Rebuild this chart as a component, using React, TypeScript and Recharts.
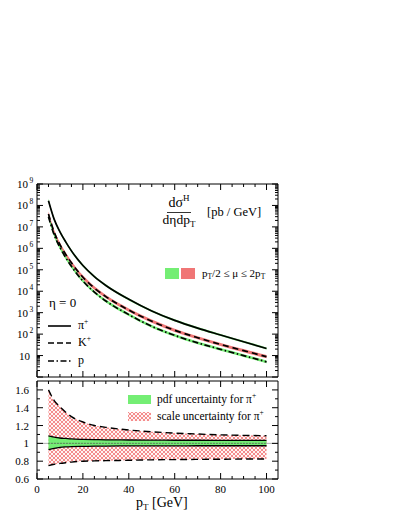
import React from 'react';
import { ComposedChart, Area, Line, XAxis, YAxis, ReferenceLine } from 'recharts';

// transverse momentum grid [GeV]
const pT = [5, 7.5, 10, 12.5, 15, 20, 25, 30, 40, 50, 60, 70, 80, 90, 100];

// cross sections [pb/GeV]
const piPlus = [1.66e8, 2.24e7, 5.9e6, 2.0e6, 7.6e5, 1.58e5, 4.8e4, 1.86e4, 4.2e3, 1200, 436, 190, 91, 44, 21.4];
const kPlus = [4.0e7, 5.6e6, 1.5e6, 5.2e5, 2.1e5, 4.5e4, 1.4e4, 5600, 1320, 400, 151, 68, 33, 17, 8.9];
const proton = [3.0e7, 4.2e6, 1.1e6, 3.7e5, 1.45e5, 3.0e4, 9100, 3500, 810, 230, 87, 39, 19.5, 10, 5.1];

// half widths of the shaded bands (multiplicative)
const piBand = [1.22, 1.2, 1.18, 1.17, 1.16, 1.15, 1.14, 1.13, 1.13, 1.12, 1.12, 1.12, 1.12, 1.12, 1.12];
const kBand = [1.3, 1.27, 1.25, 1.24, 1.23, 1.22, 1.21, 1.2, 1.2, 1.19, 1.19, 1.18, 1.18, 1.18, 1.18];
const pBand = [1.25, 1.23, 1.21, 1.2, 1.19, 1.18, 1.17, 1.17, 1.16, 1.16, 1.16, 1.16, 1.16, 1.16, 1.16];

// ratio panel
const scaleHi = [1.6, 1.48, 1.41, 1.35, 1.3, 1.24, 1.2, 1.18, 1.15, 1.13, 1.115, 1.105, 1.095, 1.09, 1.085];
const scaleLo = [0.75, 0.765, 0.775, 0.783, 0.79, 0.8, 0.803, 0.806, 0.81, 0.815, 0.818, 0.82, 0.822, 0.824, 0.825];
const pdfHi = [1.085, 1.07, 1.06, 1.055, 1.05, 1.045, 1.042, 1.04, 1.038, 1.036, 1.035, 1.035, 1.034, 1.034, 1.033];
const pdfLo = [0.93, 0.945, 0.955, 0.96, 0.963, 0.966, 0.968, 0.97, 0.971, 0.972, 0.972, 0.973, 0.973, 0.973, 0.973];
const unity = [1, 1, 1, 1, 1, 1, 1, 1, 1, 1, 1, 1, 1, 1, 1];

// ticks
const xTicks = [0, 5, 10, 15, 20, 25, 30, 35, 40, 45, 50, 55, 60, 65, 70, 75, 80, 85, 90, 95, 100];
const xLabels = [0, 20, 40, 60, 80, 100];
const decades = [0, 1, 2, 3, 4, 5, 6, 7, 8, 9];
const mantissas = [1, 2, 3, 4, 5, 6, 7, 8, 9];
const logTicks: number[] = [];
decades.forEach((d) => {
  mantissas.forEach((m) => {
    if (d < 9 || m === 1) logTicks.push(m * Math.pow(10, d));
  });
});
const ratioTicks = [0.6, 0.7, 0.8, 0.9, 1, 1.1, 1.2, 1.3, 1.4, 1.5, 1.6];
const ratioLabels = [0.6, 0.8, 1, 1.2, 1.4, 1.6];

const FONT = '"Liberation Serif", "Times New Roman", serif';
const GREEN = '#74ee74';
const RED = '#f07676';

const topData = pT.map((x, i) => ({
  pT: x,
  pi: piPlus[i],
  k: kPlus[i],
  p: proton[i],
  piB: [piPlus[i] / piBand[i], piPlus[i] * piBand[i]],
  kB: [kPlus[i] / kBand[i], kPlus[i] * kBand[i]],
  pB: [proton[i] / pBand[i], proton[i] * pBand[i]],
}));

const ratioData = pT.map((x, i) => ({
  pT: x,
  sHi: scaleHi[i],
  sLo: scaleLo[i],
  scale: [scaleLo[i], scaleHi[i]],
  pHi: pdfHi[i],
  pLo: pdfLo[i],
  pdf: [pdfLo[i], pdfHi[i]],
  one: unity[i],
}));

const isDecade = (v: number) => Math.abs(Math.log10(v) - Math.round(Math.log10(v))) < 1e-6;

function tickFactory(side: string, major: (v: number) => boolean, label?: (v: number) => React.ReactNode) {
  return (props: any) => {
    const { x, y, payload } = props;
    const v = payload.value;
    const len = major(v) ? 6 : 3;
    let line;
    if (side === 'left') line = <line x1={x} y1={y} x2={x + len} y2={y} stroke="#000" strokeWidth={1} />;
    else if (side === 'right') line = <line x1={x} y1={y} x2={x - len} y2={y} stroke="#000" strokeWidth={1} />;
    else if (side === 'top') line = <line x1={x} y1={y} x2={x} y2={y + len} stroke="#000" strokeWidth={1} />;
    else line = <line x1={x} y1={y} x2={x} y2={y - len} stroke="#000" strokeWidth={1} />;
    const lab = label ? label(v) : null;
    return (
      <g>
        {line}
        {lab ? <g transform={`translate(${x},${y})`}>{lab}</g> : null}
      </g>
    );
  };
}

const logLabel = (v: number) => {
  if (!isDecade(v)) return null;
  const d = Math.round(Math.log10(v));
  if (d === 0) return null;
  if (d === 1)
    return (
      <text x={-18} y={4} fontSize={11} fontFamily={FONT} fill="#000">
        10
      </text>
    );
  return (
    <text x={-20} y={4} fontSize={11} fontFamily={FONT} fill="#000">
      10
      <tspan dx={1.5} dy={-5} fontSize={7.5}>
        {d}
      </tspan>
    </text>
  );
};

const ratioLabel = (v: number) =>
  ratioLabels.some((r) => Math.abs(r - v) < 1e-6) ? (
    <text x={-8} y={4} textAnchor="end" fontSize={11} fontFamily={FONT} fill="#000">
      {String(v)}
    </text>
  ) : null;

const xLabel = (v: number) =>
  xLabels.includes(v) ? (
    <text x={0} y={14} textAnchor="middle" fontSize={11} fontFamily={FONT} fill="#000">
      {v}
    </text>
  ) : null;

const xMajor = (v: number) => xLabels.includes(v);
const ratioMajor = (v: number) => ratioLabels.some((r) => Math.abs(r - v) < 1e-6);

const axisCommon = {
  tickSize: 0,
  tickMargin: 0,
  interval: 0 as const,
  axisLine: { stroke: '#000', strokeWidth: 1 },
  tickLine: false,
};

const abs: React.CSSProperties = { position: 'absolute', left: 0, top: 0 };

export default function App() {
  return (
    <div style={{ position: 'absolute', left: 0, top: 0, width: 399, height: 516, background: '#fff' }}>
      <svg width={0} height={0} style={{ position: 'absolute' }}>
        <defs>
          <pattern id="hatch" width={4} height={4} patternUnits="userSpaceOnUse">
            <rect width={4} height={4} fill="#fff3f3" />
            <path d="M0,0 L4,4 M4,0 L0,4" stroke="#f27a7a" strokeWidth={0.85} />
          </pattern>
        </defs>
      </svg>

      <div style={abs}>
        <ComposedChart width={399} height={516} data={topData} margin={{ top: 183, left: 36, right: 120, bottom: 138 }}>
          <XAxis xAxisId="b" dataKey="pT" type="number" domain={[0, 105]} ticks={xTicks} orientation="bottom" height={1} {...axisCommon} tick={tickFactory('bottom', xMajor)} />
          <XAxis xAxisId="t" dataKey="pT" type="number" domain={[0, 105]} ticks={xTicks} orientation="top" height={1} {...axisCommon} tick={tickFactory('top', xMajor)} />
          <YAxis yAxisId="l" type="number" scale="log" domain={[1, 1e9]} ticks={logTicks} allowDataOverflow orientation="left" width={1} {...axisCommon} tick={tickFactory('left', isDecade, logLabel)} />
          <YAxis yAxisId="r" type="number" scale="log" domain={[1, 1e9]} ticks={logTicks} allowDataOverflow orientation="right" width={1} {...axisCommon} tick={tickFactory('right', isDecade)} />
          <Area xAxisId="b" yAxisId="l" dataKey="piB" type="monotone" fill={GREEN} fillOpacity={1} stroke="none" isAnimationActive={false} />
          <Area xAxisId="b" yAxisId="l" dataKey="kB" type="monotone" fill={RED} fillOpacity={1} stroke="none" isAnimationActive={false} />
          <Area xAxisId="b" yAxisId="l" dataKey="pB" type="monotone" fill={GREEN} fillOpacity={1} stroke="none" isAnimationActive={false} />
          <Line xAxisId="b" yAxisId="l" dataKey="pi" type="monotone" stroke="#000" strokeWidth={1.7} dot={false} isAnimationActive={false} />
          <Line xAxisId="b" yAxisId="l" dataKey="k" type="monotone" stroke="#000" strokeWidth={1.7} strokeDasharray="6 4" dot={false} isAnimationActive={false} />
          <Line xAxisId="b" yAxisId="l" dataKey="p" type="monotone" stroke="#000" strokeWidth={1.7} strokeDasharray="6 2.5 1.5 2.5" dot={false} isAnimationActive={false} />
        </ComposedChart>
      </div>

      <div style={abs}>
        <ComposedChart width={399} height={516} data={ratioData} margin={{ top: 380, left: 36, right: 120, bottom: 36 }}>
          <XAxis xAxisId="b" dataKey="pT" type="number" domain={[0, 105]} ticks={xTicks} orientation="bottom" height={1} {...axisCommon} tick={tickFactory('bottom', xMajor, xLabel)} />
          <XAxis xAxisId="t" dataKey="pT" type="number" domain={[0, 105]} ticks={xTicks} orientation="top" height={1} {...axisCommon} tick={tickFactory('top', xMajor)} />
          <YAxis yAxisId="l" type="number" domain={[0.6, 1.7]} ticks={ratioTicks} allowDataOverflow orientation="left" width={1} {...axisCommon} tick={tickFactory('left', ratioMajor, ratioLabel)} />
          <YAxis yAxisId="r" type="number" domain={[0.6, 1.7]} ticks={ratioTicks} allowDataOverflow orientation="right" width={1} {...axisCommon} tick={tickFactory('right', ratioMajor)} />
          <Area xAxisId="b" yAxisId="l" dataKey="scale" type="monotone" fill="url(#hatch)" fillOpacity={1} stroke="none" isAnimationActive={false} />
          <Area xAxisId="b" yAxisId="l" dataKey="pdf" type="monotone" fill={GREEN} fillOpacity={1} stroke="none" isAnimationActive={false} />
          <ReferenceLine xAxisId="b" yAxisId="l" y={1} stroke="#999" strokeWidth={0.8} />
          <Line xAxisId="b" yAxisId="l" dataKey="sHi" type="monotone" stroke="#000" strokeWidth={1.4} strokeDasharray="7 4" dot={false} isAnimationActive={false} />
          <Line xAxisId="b" yAxisId="l" dataKey="sLo" type="monotone" stroke="#000" strokeWidth={1.4} strokeDasharray="7 4" dot={false} isAnimationActive={false} />
          <Line xAxisId="b" yAxisId="l" dataKey="pHi" type="monotone" stroke="#000" strokeWidth={1.3} dot={false} isAnimationActive={false} />
          <Line xAxisId="b" yAxisId="l" dataKey="pLo" type="monotone" stroke="#000" strokeWidth={1.3} dot={false} isAnimationActive={false} />
          <Line xAxisId="b" yAxisId="l" dataKey="one" type="monotone" stroke="#1f8f1f" strokeWidth={1.2} strokeDasharray="1 2" dot={false} isAnimationActive={false} />
        </ComposedChart>
      </div>

      <svg width={399} height={516} style={{ ...abs, pointerEvents: 'none' }} fontFamily={FONT}>
        {/* axis title of the upper panel */}
        <text x={179} y={207} textAnchor="middle" fontSize={14}>
          dσ<tspan dy={-6} fontSize={9}>H</tspan>
        </text>
        <line x1={167} y1={212.5} x2={191} y2={212.5} stroke="#000" strokeWidth={0.8} />
        <text x={179} y={224} textAnchor="middle" fontSize={13.5}>
          dηdp<tspan dy={3} fontSize={9}>T</tspan>
        </text>
        <text x={207} y={216} fontSize={12.5}>[pb / GeV]</text>

        <rect x={165} y={268} width={14} height={11} fill={GREEN} />
        <rect x={181} y={268} width={14} height={11} fill={RED} />
        <text x={202} y={277} fontSize={11}>
          p<tspan dy={2} fontSize={7.5}>T</tspan>
          <tspan dy={-2}>/2 ≤ μ ≤ 2p</tspan>
          <tspan dy={2} fontSize={7.5}>T</tspan>
        </text>

        <text x={49} y={306.5} fontSize={13}>η = 0</text>
        <line x1={48} y1={326} x2={71} y2={326} stroke="#000" strokeWidth={1.6} />
        <text x={78} y={329} fontSize={12}>
          π<tspan dy={-5} fontSize={7.5}>+</tspan>
        </text>
        <line x1={48} y1={343} x2={71} y2={343} stroke="#000" strokeWidth={1.6} strokeDasharray="6 3" />
        <text x={78} y={346} fontSize={12}>
          K<tspan dy={-5} fontSize={7.5}>+</tspan>
        </text>
        <line x1={48} y1={361} x2={71} y2={361} stroke="#000" strokeWidth={1.6} strokeDasharray="6 2.5 1.5 2.5" />
        <text x={78} y={364} fontSize={12}>p</text>

        {/* legend of the ratio panel */}
        <rect x={128} y={395} width={23} height={9} fill={GREEN} />
        <text x={157} y={403} fontSize={11.5}>
          pdf uncertainty for π<tspan dy={-5} fontSize={7.5}>+</tspan>
        </text>
        <rect x={128} y={412} width={23} height={9} fill="url(#hatch)" />
        <text x={157} y={420} fontSize={11.5}>
          scale uncertainty for π<tspan dy={-5} fontSize={7.5}>+</tspan>
        </text>

        <text x={136} y={507} fontSize={14}>
          p<tspan dy={3} fontSize={9}>T</tspan>
          <tspan dy={-3}> [GeV]</tspan>
        </text>
      </svg>
    </div>
  );
}
